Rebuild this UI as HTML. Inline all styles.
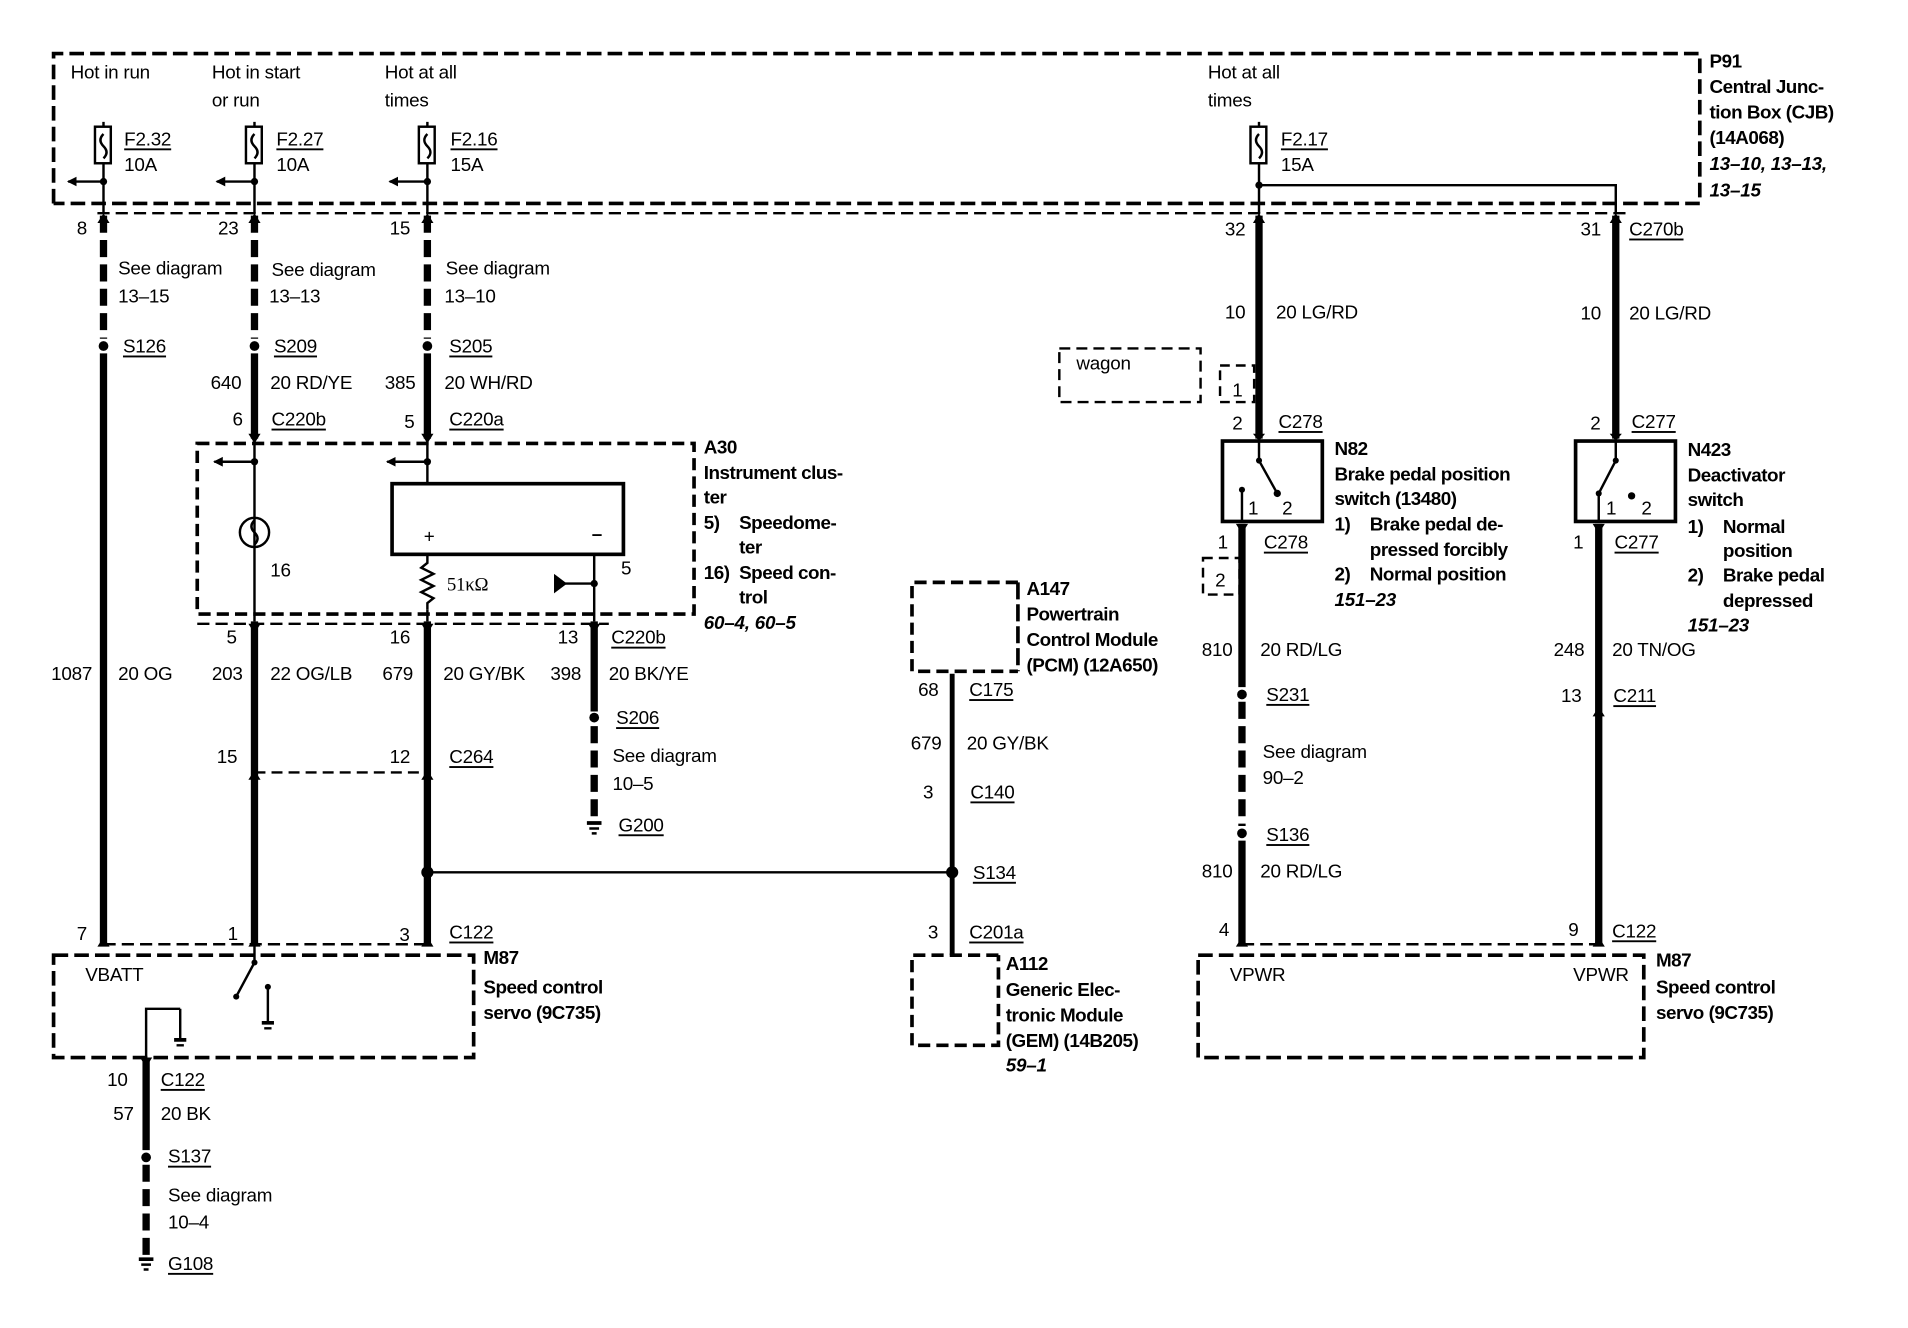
<!DOCTYPE html>
<html><head><meta charset="utf-8"><style>
html,body{margin:0;padding:0;background:#fff}
svg{display:block}
text{font-family:"Liberation Sans",sans-serif;font-size:15.5px;fill:#000;dominant-baseline:central;letter-spacing:-0.2px}
.b{font-weight:bold;letter-spacing:-0.4px}
.i{font-weight:bold;font-style:italic}
.u{text-decoration:underline}
</style></head><body>
<svg width="1908" height="1328" viewBox="0 0 1567 1090" preserveAspectRatio="none" xmlns="http://www.w3.org/2000/svg">
<defs>
<marker id="ar" markerWidth="9" markerHeight="9" refX="7" refY="4" orient="auto" markerUnits="userSpaceOnUse"><path d="M0,0 L8,4 L0,8 Z" fill="#000"/></marker>
</defs>
<g fill="none" stroke="#000">
<path d="M44,167 V44 H1396 V167 H44" stroke-width="3" stroke-dasharray="12 5"/>
<line x1="80" y1="175" x2="1335" y2="175" stroke-width="2" stroke-dasharray="10 5"/>
<g stroke-width="2">
<rect x="78" y="104" width="13" height="30"/><path d="M85,100 V104 M85,134 V175 M85,110 q-5,5 0,10 q5,5 0,10"/>
<rect x="202" y="104" width="13" height="30"/><path d="M209,100 V104 M209,134 V175 M209,110 q-5,5 0,10 q5,5 0,10"/>
<rect x="344" y="104" width="13" height="30"/><path d="M351,100 V104 M351,134 V175 M351,110 q-5,5 0,10 q5,5 0,10"/>
<rect x="1027" y="104" width="13" height="30"/><path d="M1034,100 V104 M1034,134 V175 M1034,110 q-5,5 0,10 q5,5 0,10"/>
<path d="M1034,152 H1327 V175"/>
<line x1="85" y1="149" x2="56" y2="149" marker-end="url(#ar)"/>
<line x1="209" y1="149" x2="178" y2="149" marker-end="url(#ar)"/>
<line x1="351" y1="149" x2="320" y2="149" marker-end="url(#ar)"/>
</g>
<g stroke-width="6">
<line x1="85" y1="177" x2="85" y2="278" stroke-dasharray="14 6"/>
<line x1="85" y1="290" x2="85" y2="775"/>
<line x1="209" y1="177" x2="209" y2="278" stroke-dasharray="14 6"/>
<line x1="209" y1="290" x2="209" y2="360"/>
<line x1="351" y1="177" x2="351" y2="278" stroke-dasharray="14 6"/>
<line x1="351" y1="290" x2="351" y2="360"/>
<line x1="209" y1="510" x2="209" y2="775"/>
<line x1="351" y1="510" x2="351" y2="775"/>
<line x1="488" y1="510" x2="488" y2="584"/>
<line x1="488" y1="596" x2="488" y2="672" stroke-dasharray="14 6"/>
<line x1="1034" y1="177" x2="1034" y2="360"/>
<line x1="1327" y1="177" x2="1327" y2="360"/>
<line x1="1020" y1="430" x2="1020" y2="564"/>
<line x1="1020" y1="576" x2="1020" y2="678" stroke-dasharray="14 6"/>
<line x1="1020" y1="690" x2="1020" y2="775"/>
<line x1="1313" y1="430" x2="1313" y2="775"/>
<line x1="120" y1="870" x2="120" y2="944"/>
<line x1="120" y1="956" x2="120" y2="1030" stroke-dasharray="14 6"/>
</g>
<line x1="782" y1="553" x2="782" y2="784" stroke-width="4"/>
<g stroke-width="2">
<line x1="209" y1="360" x2="209" y2="510"/>
<line x1="351" y1="360" x2="351" y2="397"/>
<line x1="351" y1="500" x2="351" y2="510"/>
<path d="M351,456 V462 l-5,4 l10,5 l-10,5 l10,5 l-10,5 l10,5 l-5,4 V500"/>
<line x1="488" y1="456" x2="488" y2="510"/>
<line x1="488" y1="479" x2="463" y2="479"/>
<path d="M456,473 L464,479 L456,485 Z" fill="#000"/>
<line x1="209" y1="379" x2="176" y2="379" marker-end="url(#ar)"/>
<line x1="351" y1="379" x2="318" y2="379" marker-end="url(#ar)"/>
<circle cx="209" cy="437" r="12"/>
<path d="M209,427 q-5,5 0,10 q5,5 0,10"/>
<line x1="351" y1="716" x2="782" y2="716"/>
<line x1="209" y1="634" x2="351" y2="634" stroke-dasharray="9 5"/>
</g>
<rect x="322" y="397" width="190" height="58" stroke-width="3"/>
<rect x="162" y="364" width="408" height="140" stroke-width="3" stroke-dasharray="10 5"/>
<line x1="162" y1="512" x2="500" y2="512" stroke-width="2" stroke-dasharray="10 5"/>
<rect x="44" y="784" width="345" height="84" stroke-width="3" stroke-dasharray="12 5"/>
<line x1="85" y1="775" x2="351" y2="775" stroke-width="2" stroke-dasharray="10 5"/>
<g stroke-width="2">
<path d="M209,775 V790 L194,818"/>
<path d="M220,810 V838"/>
<path d="M148,828 H120 V870"/>
<path d="M148,828 V852"/>
</g>
<path d="M836,478 H749 V551 H836" stroke-width="3" stroke-dasharray="10 5"/>
<path d="M836,478 V551" stroke-width="3" stroke-dasharray="14 4"/>
<path d="M820,784 H749 V858 H820 V784" stroke-width="3" stroke-dasharray="10 5"/>
<rect x="870" y="286" width="116" height="44" stroke-width="2" stroke-dasharray="9 5"/>
<rect x="1002" y="300" width="28" height="30" stroke-width="2" stroke-dasharray="8 5"/>
<rect x="988" y="458" width="30" height="30" stroke-width="2" stroke-dasharray="8 5"/>
<rect x="1004" y="362" width="82" height="66" stroke-width="3"/>
<rect x="1294" y="362" width="82" height="66" stroke-width="3"/>
<g stroke-width="2">
<path d="M1034,362 V378 L1049,405"/>
<path d="M1020,428 V402"/>
<path d="M1327,362 V378 L1313,405 V428"/>
</g>
<rect x="984" y="784" width="366" height="84" stroke-width="3" stroke-dasharray="12 5"/>
<line x1="1020" y1="775" x2="1313" y2="775" stroke-width="2" stroke-dasharray="10 5"/>
</g>
<g fill="#000">
<circle cx="85" cy="284" r="4"/><circle cx="209" cy="284" r="4"/><circle cx="351" cy="284" r="4"/>
<circle cx="85" cy="149" r="3"/><circle cx="209" cy="149" r="3"/><circle cx="351" cy="149" r="3"/><circle cx="1034" cy="152" r="3"/>
<circle cx="209" cy="379" r="3"/><circle cx="351" cy="379" r="3"/><circle cx="488" cy="479" r="3"/>
<circle cx="488" cy="589" r="4"/><circle cx="351" cy="716" r="5"/><circle cx="782" cy="716" r="5"/>
<circle cx="1020" cy="570" r="4"/><circle cx="1020" cy="684" r="4"/><circle cx="120" cy="950" r="4"/>
<circle cx="1034" cy="378" r="2.5"/><circle cx="1049" cy="405" r="3"/><circle cx="1020" cy="402" r="2.5"/>
<circle cx="1327" cy="378" r="2.5"/><circle cx="1313" cy="405" r="2.5"/><circle cx="1340" cy="407" r="3"/>
<circle cx="209" cy="790" r="2.5"/><circle cx="194" cy="818" r="2.5"/><circle cx="220" cy="810" r="2.5"/>
<path d="M482,674 h12 v3 h-12z M484,679 h8 v2 h-8z M486,683 h4 v2 h-4z"/>
<path d="M114,1032 h12 v3 h-12z M116,1037 h8 v2 h-8z M118,1041 h4 v2 h-4z"/>
<path d="M143,852 h10 v3 h-10z M145,857 h6 v2 h-6z"/>
<path d="M215,838 h10 v3 h-10z M217,843 h6 v2 h-6z"/>
<!-- connector arrowheads on wires -->
<path d="M80,183 l5,-8 l5,8z M204,183 l5,-8 l5,8z M346,183 l5,-8 l5,8z M1029,183 l5,-8 l5,8z M1322,183 l5,-8 l5,8z"/>
<path d="M204,356 l5,8 l5,-8z M346,356 l5,8 l5,-8z M1029,356 l5,6 l5,-6z M1322,356 l5,6 l5,-6z"/>
<path d="M204,512 l5,8 l5,-8z M346,512 l5,8 l5,-8z M483,512 l5,8 l5,-8z"/>
<path d="M1015,430 l5,8 l5,-8z M1308,430 l5,8 l5,-8z M115,868 l5,8 l5,-8z"/>
<path d="M80,777 l5,-8 l5,8z M204,777 l5,-8 l5,8z M346,777 l5,-8 l5,8z M1015,777 l5,-8 l5,8z M1308,777 l5,-8 l5,8z"/>
<path d="M204,640 l5,-8 l5,8z M346,640 l5,-8 l5,8z M1308,588 l5,-8 l5,8z"/>
</g>
<g>
<text x="58" y="59">Hot in run</text>
<text x="174" y="59">Hot in start</text><text x="174" y="82">or run</text>
<text x="316" y="59">Hot at all</text><text x="316" y="82">times</text>
<text x="992" y="59">Hot at all</text><text x="992" y="82">times</text>
<text x="102" y="114" class="u">F2.32</text><text x="102" y="135">10A</text>
<text x="227" y="114" class="u">F2.27</text><text x="227" y="135">10A</text>
<text x="370" y="114" class="u">F2.16</text><text x="370" y="135">15A</text>
<text x="1052" y="114" class="u">F2.17</text><text x="1052" y="135">15A</text>
<text x="1404" y="50" class="b">P91</text><text x="1404" y="71" class="b">Central Junc-</text>
<text x="1404" y="92" class="b">tion Box (CJB)</text><text x="1404" y="113" class="b">(14A068)</text>
<text x="1404" y="134" class="i">13–10, 13–13,</text><text x="1404" y="156" class="i">13–15</text>
<text x="63" y="187">8</text><text x="179" y="187">23</text><text x="320" y="187">15</text>
<text x="1006" y="188">32</text><text x="1298" y="188">31</text><text x="1338" y="188" class="u">C270b</text>
<text x="97" y="220">See diagram</text><text x="97" y="243">13–15</text>
<text x="223" y="221">See diagram</text><text x="221" y="243">13–13</text>
<text x="366" y="220">See diagram</text><text x="365" y="243">13–10</text>
<text x="101" y="284" class="u">S126</text><text x="225" y="284" class="u">S209</text><text x="369" y="284" class="u">S205</text>
<text x="173" y="314">640</text><text x="222" y="314">20 RD/YE</text>
<text x="316" y="314">385</text><text x="365" y="314">20 WH/RD</text>
<text x="191" y="344">6</text><text x="223" y="344" class="u">C220b</text>
<text x="332" y="346">5</text><text x="369" y="344" class="u">C220a</text>
<text x="1006" y="256">10</text><text x="1048" y="256">20 LG/RD</text>
<text x="1298" y="257">10</text><text x="1338" y="257">20 LG/RD</text>
<text x="884" y="298">wagon</text><text x="1012" y="320">1</text><text x="998" y="476">2</text>
<text x="1012" y="347">2</text><text x="1050" y="346" class="u">C278</text>
<text x="1306" y="347">2</text><text x="1340" y="346" class="u">C277</text>
<text x="1025" y="417">1</text><text x="1053" y="417">2</text>
<text x="1319" y="417">1</text><text x="1348" y="417">2</text>
<text x="1000" y="445">1</text><text x="1038" y="445" class="u">C278</text>
<text x="1292" y="445">1</text><text x="1326" y="445" class="u">C277</text>
<text x="1096" y="368" class="b">N82</text><text x="1096" y="389" class="b">Brake pedal position</text>
<text x="1096" y="409" class="b">switch (13480)</text>
<text x="1096" y="430" class="b">1)</text><text x="1125" y="430" class="b">Brake pedal de-</text>
<text x="1125" y="451" class="b">pressed forcibly</text>
<text x="1096" y="471" class="b">2)</text><text x="1125" y="471" class="b">Normal position</text>
<text x="1096" y="492" class="i">151–23</text>
<text x="1386" y="369" class="b">N423</text><text x="1386" y="390" class="b">Deactivator</text>
<text x="1386" y="410" class="b">switch</text>
<text x="1386" y="432" class="b">1)</text><text x="1415" y="432" class="b">Normal</text>
<text x="1415" y="452" class="b">position</text>
<text x="1386" y="472" class="b">2)</text><text x="1415" y="472" class="b">Brake pedal</text>
<text x="1415" y="493" class="b">depressed</text><text x="1386" y="513" class="i">151–23</text>
<text x="578" y="367" class="b">A30</text><text x="578" y="388" class="b">Instrument clus-</text>
<text x="578" y="408" class="b">ter</text>
<text x="578" y="429" class="b">5)</text><text x="607" y="429" class="b">Speedome-</text>
<text x="607" y="449" class="b">ter</text>
<text x="578" y="470" class="b">16)</text><text x="607" y="470" class="b">Speed con-</text>
<text x="607" y="490" class="b">trol</text>
<text x="578" y="511" class="i">60–4, 60–5</text>
<text x="348" y="440">+</text><text x="486" y="438" class="b">–</text>
<text x="222" y="468">16</text><text x="367" y="480" style="font-family:'Liberation Serif',serif">51κΩ</text>
<text x="510" y="466">5</text>
<text x="186" y="523">5</text><text x="320" y="523">16</text><text x="458" y="523">13</text><text x="502" y="523" class="u">C220b</text>
<text x="42" y="553">1087</text><text x="97" y="553">20 OG</text>
<text x="174" y="553">203</text><text x="222" y="553">22 OG/LB</text>
<text x="314" y="553">679</text><text x="364" y="553">20 GY/BK</text>
<text x="452" y="553">398</text><text x="500" y="553">20 BK/YE</text>
<text x="506" y="589" class="u">S206</text>
<text x="503" y="620">See diagram</text><text x="503" y="643">10–5</text>
<text x="508" y="677" class="u">G200</text>
<text x="178" y="621">15</text><text x="320" y="621">12</text><text x="369" y="621" class="u">C264</text>
<text x="63" y="766">7</text><text x="187" y="766">1</text><text x="328" y="767">3</text><text x="369" y="765" class="u">C122</text>
<text x="70" y="800">VBATT</text>
<text x="397" y="786" class="b">M87</text><text x="397" y="810" class="b">Speed control</text>
<text x="397" y="831" class="b">servo (9C735)</text>
<text x="88" y="886">10</text><text x="132" y="886" class="u">C122</text>
<text x="93" y="914">57</text><text x="132" y="914">20 BK</text>
<text x="138" y="949" class="u">S137</text>
<text x="138" y="981">See diagram</text><text x="138" y="1003">10–4</text>
<text x="138" y="1037" class="u">G108</text>
<text x="843" y="483" class="b">A147</text><text x="843" y="504" class="b">Powertrain</text>
<text x="843" y="525" class="b">Control Module</text><text x="843" y="546" class="b">(PCM) (12A650)</text>
<text x="754" y="566">68</text><text x="796" y="566" class="u">C175</text>
<text x="748" y="610">679</text><text x="794" y="610">20 GY/BK</text>
<text x="758" y="650">3</text><text x="797" y="650" class="u">C140</text>
<text x="799" y="716" class="u">S134</text>
<text x="762" y="765">3</text><text x="796" y="765" class="u">C201a</text>
<text x="826" y="791" class="b">A112</text><text x="826" y="812" class="b">Generic Elec-</text>
<text x="826" y="833" class="b">tronic Module</text><text x="826" y="854" class="b">(GEM) (14B205)</text>
<text x="826" y="874" class="i">59–1</text>
<text x="987" y="533">810</text><text x="1035" y="533">20 RD/LG</text>
<text x="1040" y="570" class="u">S231</text>
<text x="1037" y="617">See diagram</text><text x="1037" y="638">90–2</text>
<text x="1040" y="685" class="u">S136</text>
<text x="987" y="715">810</text><text x="1035" y="715">20 RD/LG</text>
<text x="1276" y="533">248</text><text x="1324" y="533">20 TN/OG</text>
<text x="1282" y="571">13</text><text x="1325" y="571" class="u">C211</text>
<text x="1001" y="763">4</text><text x="1288" y="763">9</text><text x="1324" y="764" class="u">C122</text>
<text x="1010" y="800">VPWR</text><text x="1292" y="800">VPWR</text>
<text x="1360" y="788" class="b">M87</text><text x="1360" y="810" class="b">Speed control</text>
<text x="1360" y="831" class="b">servo (9C735)</text>
</g>
</svg>
</body></html>
